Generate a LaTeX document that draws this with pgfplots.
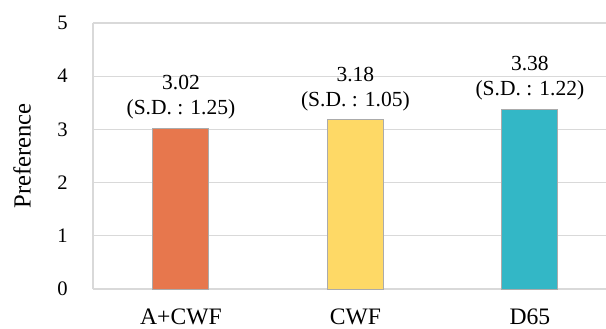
\documentclass[border=0pt]{standalone}
\usepackage{pgfplots}
\pgfplotsset{compat=1.18}
\usepackage{fontspec}
\setmainfont{Liberation Serif}
\definecolor{barA}{HTML}{E7774D}
\definecolor{barB}{HTML}{FED966}
\definecolor{barC}{HTML}{33B7C6}
\definecolor{gridc}{HTML}{D9D9D9}
\definecolor{edgec}{HTML}{ABABAB}
\begin{document}
\begin{tikzpicture}
\begin{axis}[
  at={(0,0)}, anchor=south west,
  scale only axis,
  width=256.5pt, height=133pt,
  xmin=-0.504, xmax=2.436,
  ymin=0, ymax=5,
  ytick={0,1,2,3,4,5},
  xtick={0,1,2},
  xticklabels={A+CWF,CWF,D65},
  ybar, bar width=28pt, bar shift=0pt,
  axis x line*=bottom, axis y line*=left,
  axis line style={draw=gridc, line width=0.6pt},
  ymajorgrids, grid style={draw=gridc, line width=0.6pt},
  major tick length=0pt,
  /pgf/number format/assume math mode=true,
  yticklabel style={font=\fontsize{10.3}{12}\selectfont, anchor=east, inner sep=0pt, xshift=-12.5pt},
  xticklabel style={font=\fontsize{11.8}{14}\selectfont, anchor=base, inner sep=0pt, yshift=-17.6pt},
  ylabel={Preference},
  ylabel style={font=\fontsize{12.3}{14}\selectfont, at={(axis description cs:-0.1384,0.5)}, anchor=center, inner sep=0pt},
  nodes near coords={\pgfmathprintnumber[fixed,precision=2,fixed zerofill]{\pgfplotspointmeta}\\[0pt](S.D. : \sd)},
  nodes near coords style={font=\fontsize{10.75}{12.5}\selectfont, align=center, anchor=south, yshift=1pt},
  visualization depends on={value \thisrow{sd}\as\sd},
  point meta=explicit,
]
\addplot[fill=barA, draw=edgec, line width=0.5pt] table[x=x, y=y, meta=y] {
x y sd
0 3.02 1.25
};
\addplot[fill=barB, draw=edgec, line width=0.5pt] table[x=x, y=y, meta=y] {
x y sd
1 3.18 1.05
};
\addplot[fill=barC, draw=edgec, line width=0.5pt] table[x=x, y=y, meta=y] {
x y sd
2 3.38 1.22
};
\end{axis}
\pgfresetboundingbox
\path (-46.5pt,-19.5pt) rectangle (256.5pt,144.5pt);
\end{tikzpicture}
\end{document}
